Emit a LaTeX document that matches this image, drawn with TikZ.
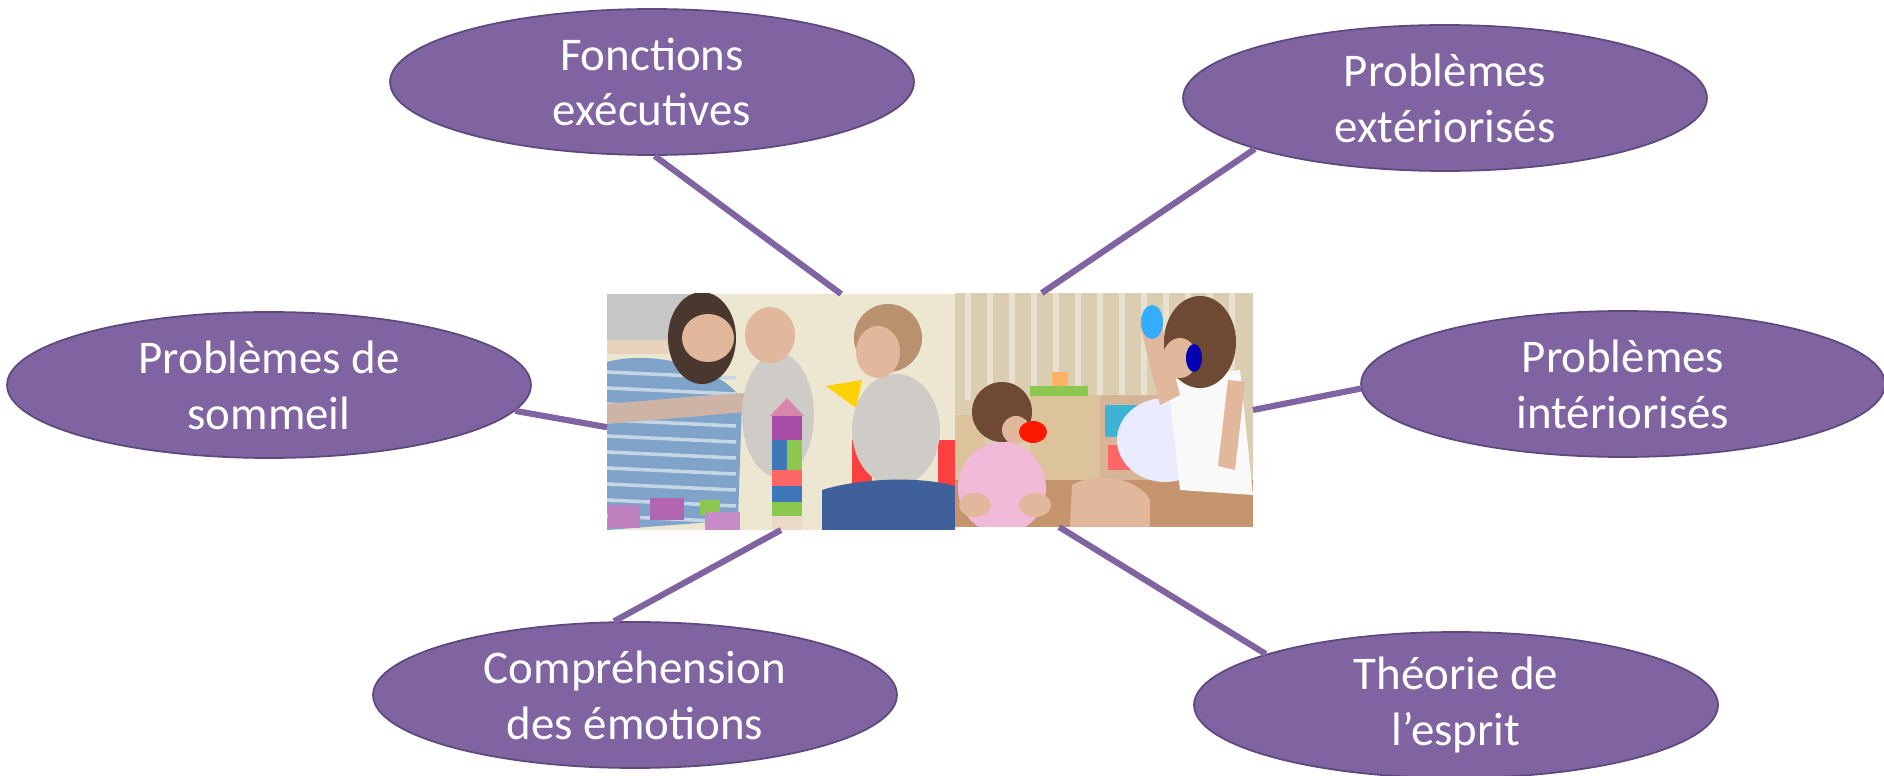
\documentclass[tikz,border=0pt]{standalone}
\usepackage{fontspec}
\setmainfont{Carlito}
\usetikzlibrary{shapes.geometric}
\definecolor{bubblefill}{HTML}{8064A2}
\definecolor{bubbleline}{HTML}{5C4A7E}
\definecolor{wallcream}{HTML}{EDE7D2}
\definecolor{curtain}{HTML}{DACDB0}
\definecolor{shirtblue}{HTML}{7FA3C9}
\definecolor{skin}{HTML}{E2B89C}
\definecolor{hairdark}{HTML}{4A382E}
\definecolor{hairlight}{HTML}{B8926E}
\definecolor{babygrey}{HTML}{CFCBC6}
\definecolor{blockblue}{HTML}{3F78B8}
\definecolor{blockgreen}{HTML}{8CC850}
\definecolor{jeans}{HTML}{40609C}
\definecolor{wood}{HTML}{C4946C}
\definecolor{cabinet}{HTML}{DCC39C}
\definecolor{basket}{HTML}{3DB4D4}
\definecolor{pinkdress}{HTML}{F2BAD9}
\definecolor{hairbrown}{HTML}{6E4A35}

\begin{document}
\begin{tikzpicture}[x=0.02cm,y=-0.02cm,
  bubble/.style={ellipse,fill=bubblefill,draw=bubbleline,line width=1pt,minimum width=10.48cm,minimum height=2.92cm,inner sep=0pt,align=center,text=white,font=\fontsize{26.7}{31.8}\selectfont},
  link/.style={draw=bubblefill,line width=3.5pt},
  photo/.style={rectangle,inner sep=0pt,outer sep=0pt}]
\useasboundingbox (0,0) rectangle (1884,776);

\node[bubble] (fonctions) at (652,82) {Fonctions\\exécutives};
\node[bubble] (exter) at (1445,98) {Problèmes\\extériorisés};
\node[bubble] (sommeil) at (269,385) {Problèmes de\\sommeil};
\node[bubble] (inter) at (1623,384) {Problèmes\\intériorisés};
\node[bubble] (emotions) at (635,695) {Compréhension\\des émotions};
\node[bubble] (esprit) at (1456,705) {Théorie de\\l’esprit};

\node[photo,fill=wallcream,minimum width=6.96cm,minimum height=4.72cm] (jeu) at (781,412) {};
\node[photo,fill=curtain,minimum width=5.96cm,minimum height=4.68cm] (gobelets) at (1104,410) {};

% photo 1
\begin{scope}
\clip (607,294) rectangle (955,530);
\fill[gray!45] (607,294) rectangle (690,345);
\fill[brown!35] (607,340) rectangle (690,354);
\fill[shirtblue] (607,362) .. controls (650,350) and (720,365) .. (742,400) -- (738,520) -- (607,530) -- cycle;
\foreach \y in {372,388,...,520} \draw[white!55!shirtblue,line width=2pt] (607,\y) -- (736,\y+6);
\fill[skin!80!shirtblue] (607,404) -- (700,396) -- (762,392) -- (766,410) -- (700,416) -- (607,424) -- cycle;
\fill[hairdark] (702,338) ellipse (34 and 46);
\fill[skin] (708,338) ellipse (26 and 24);
\fill[babygrey] (778,415) ellipse (36 and 62);
\fill[skin] (770,335) ellipse (25 and 28);
\fill[pink!70!violet] (770,416) -- (787,398) -- (804,416) -- cycle;
\fill[violet!70] (772,416) rectangle (802,440);
\fill[blockblue] (772,440) rectangle (787,470);
\fill[blockgreen] (787,440) rectangle (802,470);
\fill[red!60] (772,470) rectangle (802,486);
\fill[blockblue] (772,486) rectangle (802,502);
\fill[blockgreen] (772,502) rectangle (802,516);
\fill[brown!30] (772,516) rectangle (802,530);
\fill[red!75] (852,440) rectangle (872,492);
\fill[red!75] (938,440) rectangle (955,505);
\fill[babygrey] (896,430) ellipse (44 and 56);
\fill[hairlight] (888,338) ellipse (34 and 34);
\fill[skin] (878,352) ellipse (22 and 26);
\fill[yellow!70!orange] (826,386) -- (862,380) -- (856,408) -- cycle;
\fill[jeans] (822,490) .. controls (860,478) and (920,476) .. (955,486) -- (955,530) -- (822,530) -- cycle;
\fill[violet!50] (608,505) rectangle (640,528);
\fill[violet!60] (650,498) rectangle (684,520);
\fill[blockgreen] (700,500) rectangle (720,515);
\fill[violet!45] (705,512) rectangle (740,530);
\end{scope}

% photo 2
\begin{scope}
\clip (955,293) rectangle (1253,527);
\foreach \x in {968,990,...,1250} \draw[white!40!curtain,line width=3pt] (\x,293) -- (\x,400);
\fill[cabinet] (1030,395) rectangle (1100,495);
\fill[blockgreen] (1030,386) rectangle (1088,396);
\fill[orange!60] (1052,372) rectangle (1068,386);
\fill[wood!70] (1100,395) rectangle (1165,485);
\fill[basket] (1105,405) rectangle (1140,437);
\fill[red!60] (1108,445) rectangle (1130,470);
\fill[cabinet] (955,415) rectangle (985,500);
\fill[wood] (955,480) rectangle (1253,527);
\fill[skin] (1072,485) .. controls (1100,470) and (1140,480) .. (1150,500) -- (1150,527) -- (1070,527) -- cycle;
\fill[white!92!blue] (1165,440) ellipse (48 and 42);
\fill[white!95!gray] (1168,380) -- (1240,370) -- (1253,495) -- (1180,490) -- cycle;
\fill[skin] (1140,325) -- (1160,318) -- (1180,395) -- (1160,405) -- cycle;
\fill[skin] (1228,380) -- (1245,382) -- (1235,470) -- (1218,466) -- cycle;
\fill[hairbrown] (1200,342) ellipse (36 and 46);
\fill[skin] (1180,358) ellipse (17 and 20);
\fill[blue!40!cyan!80!white] (1152,322) ellipse (11 and 17);
\fill[blue!70!black] (1194,358) ellipse (8 and 14);
\fill[pinkdress] (1002,488) ellipse (44 and 46);
\fill[skin] (975,505) ellipse (16 and 12);
\fill[skin] (1035,505) ellipse (16 and 12);
\fill[hairbrown] (1002,412) ellipse (30 and 30);
\fill[skin] (1016,430) ellipse (14 and 14);
\fill[red!80!orange] (1033,432) ellipse (14 and 11);
\end{scope}

\draw[link] (fonctions.272) -- (jeu.63.6);
\draw[link] (exter.195.7) -- (gobelets.118.3);
\draw[link] (sommeil.-6) -- (jeu.185.9);
\draw[link] (inter.181) -- (gobelets.east);
\draw[link] (emotions.106) -- (jeu.south);
\draw[link] (esprit.165) -- (gobelets.249);

\end{tikzpicture}
\end{document}
